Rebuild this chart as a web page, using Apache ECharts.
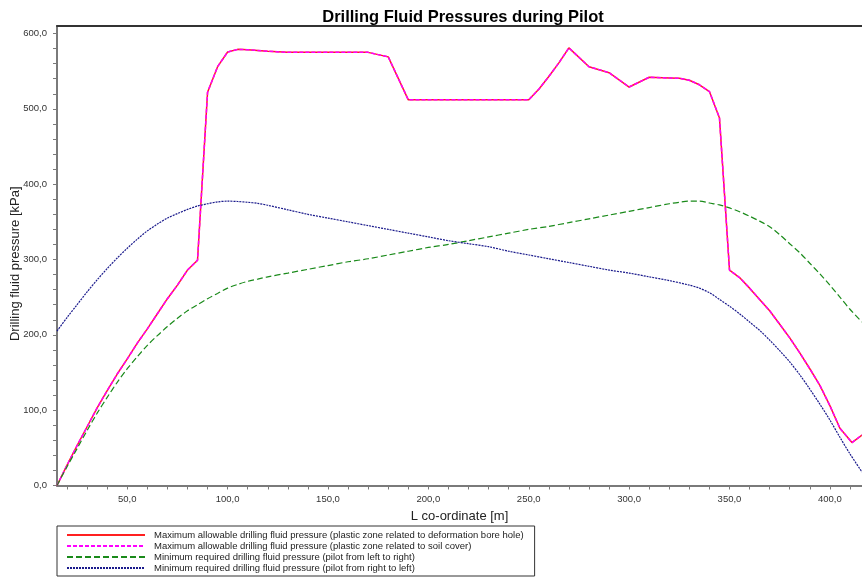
<!DOCTYPE html>
<html>
<head>
<meta charset="utf-8">
<script src="https://cdn.jsdelivr.net/npm/echarts@6/dist/echarts.min.js"></script>
<style>html,body{margin:0;padding:0;background:#fff;}#c{width:862px;height:580px;}</style>
</head>
<body>
<div id="c"></div>
<script>
var seriesNames = [
  'Maximum allowable drilling fluid pressure (plastic zone related to deformation bore hole)',
  'Maximum allowable drilling fluid pressure (plastic zone related to soil cover)',
  'Minimum required drilling fluid pressure (pilot from left to right)',
  'Minimum required drilling fluid pressure (pilot from right to left)'
];
var maxX = [15,20,25,30,35,40,45,50,55,60,65,70,75,80,85,90,95,100,105,110,120,130,140,150,160,170,180,190,200,210,220,230,240,250,255,260,265,270,280,290,300,310,320,325,330,335,340,345,350,355,360,365,370,375,380,385,390,395,400,405,411,416];
var maxY = [0,27,53,78,103,126,148,168,189,208,228,248,266,286,299,522,556,575.5,579,578.5,576.5,575,575,575,575,575,569,512,512,512,512,512,512,512,526,543,561,581,556,548,529,542,541,540.5,538,532,523,488,286,276,262,247,232,214,196,176,155,133,106,76,57,67];
var greenX = [15,20,25,30,35,40,45,50,55,60,65,70,75,80,85,90,95,100,105,110,115,120,130,140,150,160,170,180,190,200,210,220,230,240,250,260,270,280,290,300,310,320,325,330,335,340,345,350,355,360,365,370,375,380,385,390,395,400,405,410,416];
var greenY = [0,25,49,73,96,117,137,155,171,186,199,211,222,232,240,248,255,262,267,271,274,277,282,287,292,297,301,306,311,316,320,325,330,335,340,344,349,354,359,364,369,374,376,377.5,377.5,375,372.5,368.5,363.5,357.5,351,343.6,333,321,309,295,281,266,250,234,217];
var blueX = [15,20,25,30,35,40,45,50,55,60,65,70,75,80,85,90,95,100,105,110,115,120,130,140,150,160,170,180,190,200,210,220,230,240,250,260,270,280,290,300,310,320,330,335,340,345,350,355,360,365,370,375,380,385,390,395,400,405,410,416];
var blueY = [205,223,240,257,273,288,302,315,327,338,347,355,361,366.5,371,374,376.5,377.5,377,376,374.5,372,366,360,355,350,345,340,335,330,325,321,317,311,306,301,296,291,286,282,277,272,266,262,256,247,238,228,217,206,193,179,164,147,128,108,87,64,42,18];
var xLabelValues = [50,100,150,200,250,300,350,400];
var xTickValues = [20,30,40,50,60,70,80,90,100,110,120,130,140,150,160,170,180,190,200,210,220,230,240,250,260,270,280,290,300,310,320,330,340,350,360,370,380,390,400,410];
var yLabelValues = [0,100,200,300,400,500,600];
var yTickValues = [0,20,40,60,80,100,120,140,160,180,200,220,240,260,280,300,320,340,360,380,400,420,440,460,480,500,520,540,560,580,600];

function zip(xs, ys){ return xs.map(function(x,i){ return [x, ys[i]]; }); }
function fmt(v){ return Number(v).toFixed(1).replace('.', ','); }

var FONT = 'Liberation Sans, Arial, sans-serif';
var axisGray = '#7a7a7a';

var chart = echarts.init(document.getElementById('c'), null, {renderer:'canvas'});
chart.setOption({
  animation: false,
  backgroundColor: '#fff',
  title: {
    text: 'Drilling Fluid Pressures during Pilot',
    left: 458, top: 4, textAlign: 'center',
    textStyle: {fontFamily: FONT, fontSize: 16.5, fontWeight: 'bold', color: '#000'}
  },
  grid: {left: 57, top: 26, right: 0, bottom: 94.5, outerBoundsMode: 'none', containLabel: false},
  legend: {
    orient: 'vertical', left: 57, top: 526,
    borderColor: '#333', borderWidth: 1,
    padding: [4, 11, 3, 9],
    itemWidth: 78, itemHeight: 10, itemGap: 1,
    itemStyle: {opacity: 0},
    textStyle: {fontFamily: FONT, fontSize: 9.5, color: '#222', padding: [0, 0, 0, 4]},
    data: seriesNames
  },
  xAxis: [{
    type: 'value', min: 15, max: 416, position: 'bottom',
    name: 'L co-ordinate [m]', nameLocation: 'middle', nameGap: 24, nameMoveOverlap: false,
    nameTextStyle: {fontFamily: FONT, fontSize: 13, color: '#222'},
    axisLine: {show: true, lineStyle: {color: axisGray, width: 2}},
    axisTick: {show: true, length: 4, customValues: xTickValues, lineStyle: {color: axisGray, width: 1}},
    axisLabel: {customValues: xLabelValues, formatter: fmt, margin: 9, fontFamily: FONT, fontSize: 9.5, color: '#333'},
    splitLine: {show: false}
  }, {
    type: 'value', min: 15, max: 416, position: 'top',
    axisLine: {show: true, onZero: false, lineStyle: {color: '#333', width: 2}},
    axisTick: {show: false}, axisLabel: {show: false}, splitLine: {show: false}
  }],
  yAxis: {
    type: 'value', min: 0, max: 610,
    name: 'Drilling fluid pressure [kPa]', nameLocation: 'middle', nameGap: 35, nameRotate: 90, nameMoveOverlap: false,
    nameTextStyle: {fontFamily: FONT, fontSize: 13, color: '#222', padding: [0, 16, 0, 0]},
    axisLine: {show: true, lineStyle: {color: axisGray, width: 2}},
    axisTick: {show: true, length: 4, customValues: yTickValues, lineStyle: {color: axisGray, width: 1}},
    axisLabel: {customValues: yLabelValues, formatter: fmt, margin: 10, fontFamily: FONT, fontSize: 9.5, color: '#333'},
    splitLine: {show: false}
  },
  series: [
    {name: seriesNames[0], type: 'line', data: zip(maxX, maxY), showSymbol: false, symbol: 'none',
     lineStyle: {color: '#ff2020', width: 1.5, type: 'solid'}, itemStyle: {color: '#ff2020'}},
    {name: seriesNames[1], type: 'line', data: zip(maxX, maxY), showSymbol: false, symbol: 'none',
     lineStyle: {color: '#ff00ff', width: 1.5, type: [4, 2]}, itemStyle: {color: '#ff00ff'}},
    {name: seriesNames[2], type: 'line', data: zip(greenX, greenY), showSymbol: false, symbol: 'none', smooth: 0.3,
     lineStyle: {color: '#1a8a1a', width: 1.2, type: [6, 3]}, itemStyle: {color: '#1a8a1a'}},
    {name: seriesNames[3], type: 'line', data: zip(blueX, blueY), showSymbol: false, symbol: 'none', smooth: 0.3,
     lineStyle: {color: '#1a1a8c', width: 1.2, type: [2, 1]}, itemStyle: {color: '#1a1a8c'}}
  ]
});
</script>
</body>
</html>
